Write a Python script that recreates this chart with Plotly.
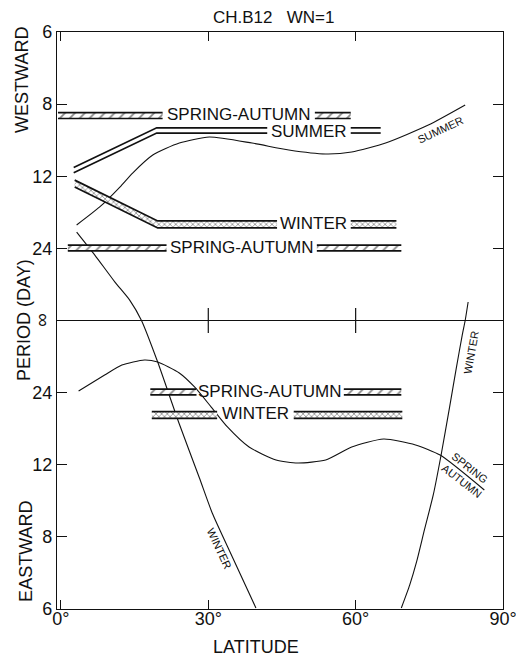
import plotly.graph_objects as go

# ---------------- data ----------------
# x = latitude (deg), y = frequency (cycles/day): + westward, - eastward (period = 1/|freq|)
period_ticks = [6, 8, 12, 24]
lat_ticks = [0, 30, 60, 90]

# thin curves
summer_lat = [3.2, 7.9, 12.0, 14.6, 18.7, 24.1, 30.2, 38.9, 46.4, 53.9, 59.2, 66.1, 74.8, 82.3]
summer_freq = [0.0552, 0.0656, 0.0771, 0.0852, 0.0956, 0.1025, 0.1060, 0.1025, 0.0985, 0.0962,
               0.0973, 0.1025, 0.1129, 0.1245]

winter_left_lat = [3.2, 6.9, 11.0, 14.0, 16.4, 19.7, 24.1, 28.2, 30.8, 34.9, 39.7]
winter_left_freq = [0.0511, 0.0378, 0.0222, 0.0118, 0.0, -0.0240, -0.0598, -0.0910, -0.1112,
                    -0.1366, -0.1661]

spraut_lat = [3.6, 8.9, 12.4, 17.0, 19.7, 24.1, 27.2, 30.6, 33.9, 38.3, 43.8, 48.2, 53.9, 59.2,
              65.7, 72.2, 77.2, 86.2]
spraut_freq = [-0.0407, -0.0315, -0.0257, -0.0228, -0.0240, -0.0303, -0.0384, -0.0500, -0.0615,
               -0.0731, -0.0806, -0.0823, -0.0806, -0.0731, -0.0685, -0.0719, -0.0777, -0.0979]

winter_right_lat = [69.3, 71.0, 72.4, 74.0, 75.8, 77.4, 79.1, 80.5, 81.7, 82.3, 82.9]
winter_right_freq = [-0.1661, -0.1529, -0.1395, -0.1210, -0.1008, -0.0777, -0.0505, -0.0274,
                     -0.0084, 0.0, 0.0107]

# bands (centre lines), split around their text labels
sa_w8_left_lat, sa_w8_right_lat, sa_w8_freq = [-0.6, 20.7], [51.7, 59.0], 0.1184
summer_band_left_lat = [2.6, 19.5, 42.0]
summer_band_left_freq = [0.0869, 0.1098, 0.1098]
summer_band_right_lat, summer_band_right_freq = [59.0, 65.1], 0.1098
winter_w_left_lat = [2.8, 19.7, 44.0]
winter_w_left_freq = [0.0791, 0.0555, 0.0555]
winter_w_right_lat, winter_w_right_freq = [59.0, 68.3], 0.0555
sa_w24_left_lat, sa_w24_right_lat, sa_w24_freq = [1.4, 21.5], [52.1, 69.3], 0.0419
sa_e24_left_lat, sa_e24_right_lat, sa_e24_freq = [18.2, 27.6], [57.6, 69.3], -0.0413
winter_e_left_lat, winter_e_right_lat, winter_e_freq = [18.5, 31.8], [47.4, 69.5], -0.0546

# ---------------- figure ----------------
FONT = "Liberation Sans, Arial, sans-serif"
INK = "#111111"
fig = go.Figure()

def curve(lat, freq):
    fig.add_trace(go.Scatter(x=lat, y=freq, mode="lines",
                             line=dict(color=INK, width=1.1, shape="spline", smoothing=0.6),
                             hoverinfo="skip"))

for la, fr in [(summer_lat, summer_freq), (winter_left_lat, winter_left_freq),
               (spraut_lat, spraut_freq), (winter_right_lat, winter_right_freq)]:
    curve(la, fr)

def as_list(v, n):
    return list(v) if isinstance(v, (list, tuple)) else [v] * n

def band(lat, freq, half, pattern=None):
    fr = as_list(freq, len(lat))
    lo = [f - half for f in fr]
    hi = [f + half for f in fr]
    fig.add_trace(go.Scatter(x=lat, y=lo, mode="lines", line=dict(color=INK, width=1.7),
                             hoverinfo="skip"))
    kw = {}
    if pattern is not None:
        kw = dict(fill="tonexty", fillcolor="rgba(0,0,0,0)",
                  fillpattern=pattern)
    fig.add_trace(go.Scatter(x=lat, y=hi, mode="lines", line=dict(color=INK, width=1.7),
                             hoverinfo="skip", **kw))

SA = dict(shape="/", fgcolor=INK, bgcolor="white", size=7, solidity=0.25)
WI = dict(shape="x", fgcolor=INK, bgcolor="white", size=4, solidity=0.35)
h_sa, h_wi, h_su = 0.0017, 0.0020, 0.0015

band(sa_w8_left_lat, sa_w8_freq, h_sa, SA)
band(sa_w8_right_lat, sa_w8_freq, h_sa, SA)
band(summer_band_left_lat, summer_band_left_freq, h_su)
band(summer_band_right_lat, summer_band_right_freq, h_su)
band(winter_w_left_lat, winter_w_left_freq, h_wi, WI)
band(winter_w_right_lat, winter_w_right_freq, h_wi, WI)
band(sa_w24_left_lat, sa_w24_freq, h_sa, SA)
band(sa_w24_right_lat, sa_w24_freq, h_sa, SA)
band(sa_e24_left_lat, sa_e24_freq, h_sa, SA)
band(sa_e24_right_lat, sa_e24_freq, h_sa, SA)
band(winter_e_left_lat, winter_e_freq, h_wi, WI)
band(winter_e_right_lat, winter_e_freq, h_wi, WI)

# tick marks crossing the zero-frequency (infinite period) line
inner_lat = lat_ticks[1:-1]
fig.add_trace(go.Scatter(x=inner_lat, y=[0] * len(inner_lat), mode="markers",
                         marker=dict(symbol="line-ns", size=18,
                                     line=dict(color=INK, width=1.2)),
                         hoverinfo="skip"))

# band labels, centred in the gaps
def mid(a, b):
    return (a[-1] + b[0]) / 2

band_labels = [
    ("SPRING-AUTUMN", mid(sa_w8_left_lat, sa_w8_right_lat), sa_w8_freq + 0.0004),
    ("SUMMER", mid(summer_band_left_lat, summer_band_right_lat), summer_band_right_freq - 0.0008),
    ("WINTER", mid(winter_w_left_lat, winter_w_right_lat), winter_w_right_freq + 0.0008),
    ("SPRING-AUTUMN", mid(sa_w24_left_lat, sa_w24_right_lat), sa_w24_freq),
    ("SPRING-AUTUMN", mid(sa_e24_left_lat, sa_e24_right_lat), sa_e24_freq),
    ("WINTER", mid(winter_e_left_lat, winter_e_right_lat), winter_e_freq + 0.0010),
]
ann = []
for t, x, y in band_labels:
    ann.append(dict(x=x, y=y, text=t, showarrow=False, xanchor="center", yanchor="middle",
                    font=dict(family=FONT, size=17, color=INK)))

# small curve labels
curve_labels = [
    ("SUMMER", 77.2, 0.1100, -25),
    ("WINTER", 32.2, -0.1314, 65),
    ("WINTER", 83.5, -0.0188, -80),
    ("SPRING", 83.3, -0.0850, 38),
    ("AUTUMN", 81.6, -0.0930, 38),
]
for t, x, y, a in curve_labels:
    ann.append(dict(x=x, y=y, text=t, showarrow=False, textangle=a,
                    xanchor="center", yanchor="middle",
                    font=dict(family=FONT, size=11, color=INK)))

# axis texts
def ptext(x, y, t, size=18, angle=0, yref="paper"):
    return dict(xref="paper", yref=yref, x=x, y=y, text=t, textangle=angle, showarrow=False,
                xanchor="center", yanchor="middle", font=dict(family=FONT, size=size, color=INK))

ann += [
    ptext(0.485, 1.025, "CH.B12\u00a0\u00a0\u00a0WN=1", 17),
    ptext(0.446, -0.065, "LATITUDE"),
    ptext(-0.0785, 0.917, "WESTWARD", angle=-90),
    ptext(-0.074, 0.501, "PERIOD (DAY)", angle=-90),
    ptext(-0.0695, 0.099, "EASTWARD", angle=-90),
    ptext(-0.031, 0, "\u221e", 19, angle=90, yref="y"),
]

ytickvals = [-1 / p for p in period_ticks] + [0] + [1 / p for p in reversed(period_ticks)]
yticktext = [str(p) for p in period_ticks] + [""] + [str(p) for p in reversed(period_ticks)]

# page body has an 8px margin: figure is 8px smaller and offset accordingly
fig.update_layout(
    width=516, height=648,
    margin=dict(l=49, r=21, t=24, b=47),
    paper_bgcolor="white", plot_bgcolor="white",
    showlegend=False, hovermode=False,
    annotations=ann,
    font=dict(family=FONT, size=17, color=INK),
    xaxis=dict(range=[-0.8, 90.0], tickvals=lat_ticks,
               ticktext=[f"{v}\u00b0" for v in lat_ticks], automargin=False,
               ticks="inside", ticklen=9, tickwidth=1, tickcolor=INK,
               ticklabelstandoff=-7,
               showline=True, linecolor=INK, linewidth=1.4, mirror="ticks",
               showgrid=False, zeroline=False, tickfont=dict(size=18)),
    yaxis=dict(range=[-1 / 6, 1 / 6], tickvals=ytickvals, ticktext=yticktext, automargin=False,
               ticks="inside", ticklen=10, tickwidth=1, tickcolor=INK,
               showline=True, linecolor=INK, linewidth=1.4, mirror="ticks",
               showgrid=False, zeroline=True, zerolinecolor=INK, zerolinewidth=1.2,
               tickfont=dict(size=18)),
)

fig.write_html("out.html")
